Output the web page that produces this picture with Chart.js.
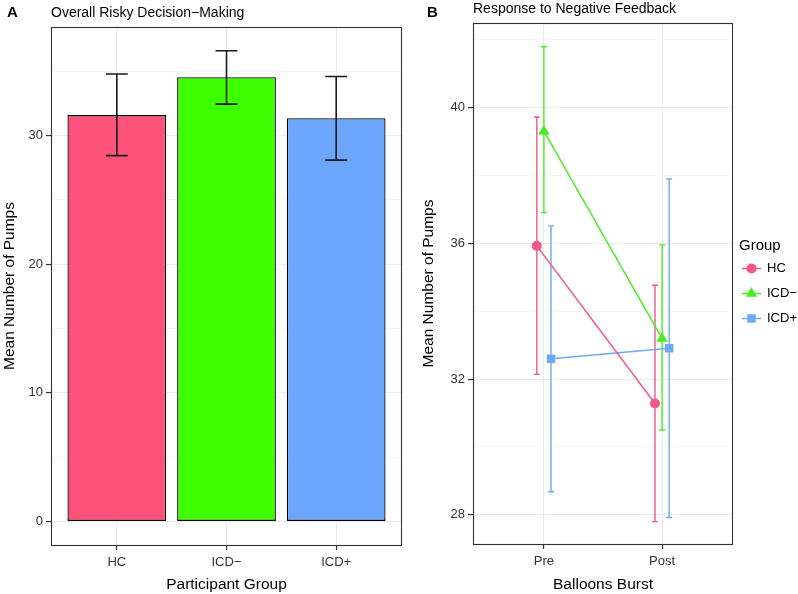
<!DOCTYPE html>
<html>
<head>
<meta charset="utf-8">
<script src="https://cdn.jsdelivr.net/npm/chart.js@4.4.1/dist/chart.umd.min.js"></script>
<style>
  html, body { margin: 0; padding: 0; background: #fff; }
  #wrap { position: relative; width: 798px; height: 594px; overflow: hidden; background: #fff; }
  canvas { position: absolute; top: 0; }
  #panelA { left: 0; }
  #panelB { left: 400px; }
</style>
</head>
<body>
<div id="wrap">
  <canvas id="panelA" width="404" height="594"></canvas>
  <canvas id="panelB" width="398" height="594"></canvas>
</div>
<script>
// Panel A - overall pumps per group (mean and error bar ends)
const groups = ['HC', 'ICD\u2212', 'ICD+'];
const overallMean = [31.6, 34.55, 31.35];
const overallLow = [28.45, 32.45, 28.1];
const overallHigh = [34.8, 36.6, 34.6];
const ticksA = [0, 10, 20, 30];
const minorA = [5, 15, 25, 35];

// Panel B - response to negative feedback, pre vs post
const phases = ['Pre', 'Post'];
const hcMean = [35.93, 31.28];
const hcLow = [32.14, 27.8];
const hcHigh = [39.73, 34.77];
const icdMinusMean = [39.31, 33.2];
const icdMinusLow = [36.91, 30.5];
const icdMinusHigh = [41.8, 35.96];
const icdPlusMean = [32.6, 32.91];
const icdPlusLow = [28.68, 27.92];
const icdPlusHigh = [36.52, 37.9];
const ticksB = [28, 32, 36, 40];
const minorB = [30, 34, 38, 42];

const barColors = ['#FF527B', '#3EFF00', '#6CA6FF'];
const lineColors = ['#F0588A', '#48EE22', '#6FA8F5'];
const pointStyles = ['circle', 'triangle', 'rect'];
const dodge = 0.06;

Chart.defaults.font.family = "'Liberation Sans', Arial, Helvetica, sans-serif";
Chart.defaults.color = '#333';

function gridOpts(major) {
  const isMajor = c => c.tick && major.includes(c.tick.value);
  return {
    color: c => isMajor(c) ? '#EBEBEB' : '#F3F3F3',
    lineWidth: c => isMajor(c) ? 1.1 : 0.7,
    tickColor: c => isMajor(c) ? '#333' : 'rgba(0,0,0,0)',
    tickWidth: 1.2,
    tickLength: 5
  };
}

function setTicks(values) {
  return scale => { scale.ticks = values.map(v => ({ value: v })); };
}

// frame around the plot area plus the panel letter and title
function panelDeco(letter, letterX, title, titleY) {
  return {
    id: 'deco' + letter,
    afterDraw(chart) {
      const { ctx, chartArea: a } = chart;
      ctx.save();
      ctx.strokeStyle = '#333';
      ctx.lineWidth = 1.1;
      ctx.strokeRect(a.left + 0.5, a.top + 0.5, a.right - a.left - 1, a.bottom - a.top);
      ctx.fillStyle = '#000';
      ctx.textBaseline = 'alphabetic';
      ctx.font = "bold 15px 'Liberation Sans', Arial, sans-serif";
      ctx.fillText(letter, letterX, 17.3);
      ctx.font = "14px 'Liberation Sans', Arial, sans-serif";
      ctx.fillText(title, a.left, titleY);
      ctx.restore();
    }
  };
}

function drawErrorBar(ctx, xs, ys, x, lo, hi, cap) {
  const px = xs.getPixelForValue(x);
  const capPx = Math.abs(xs.getPixelForValue(x + cap) - px);
  const yl = ys.getPixelForValue(lo), yh = ys.getPixelForValue(hi);
  ctx.beginPath();
  ctx.moveTo(px, yl); ctx.lineTo(px, yh);
  ctx.moveTo(px - capPx, yl); ctx.lineTo(px + capPx, yl);
  ctx.moveTo(px - capPx, yh); ctx.lineTo(px + capPx, yh);
  ctx.stroke();
}

const errorBarsA = {
  id: 'errorBarsA',
  afterDatasetsDraw(chart) {
    const { ctx, scales: { x, y } } = chart;
    ctx.save();
    ctx.strokeStyle = '#1a1a1a';
    ctx.lineWidth = 1.6;
    groups.forEach((g, i) => drawErrorBar(ctx, x, y, i + 1, overallLow[i], overallHigh[i], 0.1));
    ctx.restore();
  }
};

new Chart(document.getElementById('panelA'), {
  type: 'bar',
  data: {
    datasets: [{
      data: groups.map((g, i) => ({ x: i + 1, y: overallMean[i] })),
      backgroundColor: barColors,
      borderColor: '#000',
      borderWidth: 1.3,
      borderSkipped: false,
      barPercentage: 0.9,
      categoryPercentage: 1
    }]
  },
  options: {
    responsive: false,
    animation: false,
    layout: { padding: { top: 27, right: 2, left: 0, bottom: 0 } },
    plugins: { legend: { display: false }, tooltip: { enabled: false } },
    scales: {
      x: {
        type: 'linear', min: 0.4, max: 3.6, bounds: 'data', offset: false,
        afterBuildTicks: setTicks([1, 2, 3]),
        afterFit: s => { s.height = 49; },
        ticks: { callback: v => groups[Math.round(v) - 1], font: { size: 13 }, padding: 5, maxRotation: 0 },
        grid: Object.assign(gridOpts([1, 2, 3]), { offset: false }),
        border: { display: false },
        title: { display: true, text: 'Participant Group', color: '#000', font: { size: 15.5 }, padding: { top: 0, bottom: 0 } }
      },
      y: {
        min: -1.83, max: 38.45, bounds: 'data',
        afterBuildTicks: setTicks(ticksA.concat(minorA)),
        afterFit: s => { s.width = 51; },
        ticks: { callback: v => ticksA.includes(v) ? String(v) : '', font: { size: 13 }, padding: 3 },
        grid: gridOpts(ticksA),
        border: { display: false },
        title: { display: true, text: 'Mean Number of Pumps', color: '#000', font: { size: 15.5 }, padding: { top: 0, bottom: 0 } }
      }
    }
  },
  plugins: [errorBarsA, panelDeco('A', 7, 'Overall Risky Decision\u2212Making', 16.7)]
});

const seriesB = [
  { name: groups[0], mean: hcMean, low: hcLow, high: hcHigh },
  { name: groups[1], mean: icdMinusMean, low: icdMinusLow, high: icdMinusHigh },
  { name: groups[2], mean: icdPlusMean, low: icdPlusLow, high: icdPlusHigh }
];
const pointRadius = [5, 6.5, 6];

const errorBarsB = {
  id: 'errorBarsB',
  beforeDatasetsDraw(chart) {
    const { ctx, scales: { x, y } } = chart;
    ctx.save();
    ctx.lineWidth = 1.4;
    seriesB.forEach((s, k) => {
      ctx.strokeStyle = lineColors[k];
      phases.forEach((p, i) => {
        drawErrorBar(ctx, x, y, i + 1 + (k - 1) * dodge, s.low[i], s.high[i], 0.025);
      });
    });
    ctx.restore();
  }
};

function drawMarker(ctx, style, r, x, y) {
  if (Chart.helpers && Chart.helpers.drawPoint) {
    Chart.helpers.drawPoint(ctx, { pointStyle: style, radius: r, rotation: 0, borderWidth: 0 }, x, y);
    return;
  }
  ctx.beginPath();
  if (style === 'circle') ctx.arc(x, y, r, 0, Math.PI * 2);
  else if (style === 'triangle') {
    ctx.moveTo(x, y - r);
    ctx.lineTo(x + r * 0.866, y + r / 2);
    ctx.lineTo(x - r * 0.866, y + r / 2);
    ctx.closePath();
  } else { const h = r * Math.SQRT1_2; ctx.rect(x - h, y - h, 2 * h, 2 * h); }
  ctx.fill();
}

const legendB = {
  id: 'legendB',
  afterDraw(chart) {
    const { ctx } = chart;
    ctx.save();
    ctx.fillStyle = '#000';
    ctx.textBaseline = 'alphabetic';
    ctx.font = "15px 'Liberation Sans', Arial, sans-serif";
    ctx.fillText('Group', 339, 250);
    ctx.font = "13px 'Liberation Sans', Arial, sans-serif";
    seriesB.forEach((s, k) => {
      const cy = 268.5 + k * 25;
      ctx.strokeStyle = lineColors[k];
      ctx.fillStyle = lineColors[k];
      ctx.lineWidth = 1.5;
      ctx.beginPath();
      ctx.moveTo(342, cy); ctx.lineTo(361, cy);
      ctx.stroke();
      drawMarker(ctx, pointStyles[k], pointRadius[k], 351.5, cy);
      ctx.fillStyle = '#000';
      ctx.textBaseline = 'middle';
      ctx.fillText(s.name, 367, cy);
    });
    ctx.restore();
  }
};

new Chart(document.getElementById('panelB'), {
  type: 'line',
  data: {
    datasets: seriesB.map((s, k) => ({
      label: s.name,
      data: phases.map((p, i) => ({ x: i + 1 + (k - 1) * dodge, y: s.mean[i] })),
      borderColor: lineColors[k],
      backgroundColor: lineColors[k],
      borderWidth: 1.5,
      pointStyle: pointStyles[k],
      pointRadius: pointRadius[k],
      pointBorderWidth: 0,
      pointBackgroundColor: lineColors[k],
      tension: 0
    }))
  },
  options: {
    responsive: false,
    animation: false,
    layout: { padding: { top: 23, right: 65, left: 0, bottom: 0 } },
    plugins: { legend: { display: false }, tooltip: { enabled: false } },
    scales: {
      x: {
        type: 'linear', min: 0.4, max: 2.6, bounds: 'data',
        afterBuildTicks: setTicks([1, 2]),
        afterFit: s => { s.height = 50; },
        ticks: { callback: v => phases[Math.round(v) - 1], font: { size: 13 }, padding: 5, maxRotation: 0 },
        grid: gridOpts([1, 2]),
        border: { display: false },
        title: { display: true, text: 'Balloons Burst', color: '#000', font: { size: 15.5 }, padding: { top: 0, bottom: 0 } }
      },
      y: {
        type: 'linear', min: 27.14, max: 42.5, bounds: 'data',
        afterBuildTicks: setTicks(ticksB.concat(minorB)),
        afterFit: s => { s.width = 73; },
        ticks: { callback: v => ticksB.includes(v) ? String(v) : '', font: { size: 13 }, padding: 3 },
        grid: gridOpts(ticksB),
        border: { display: false },
        title: { display: true, text: 'Mean Number of Pumps', color: '#000', font: { size: 15.5 }, padding: { top: 19.5, bottom: 0 } }
      }
    }
  },
  plugins: [errorBarsB, legendB, panelDeco('B', 27, 'Response to Negative Feedback', 12.7)]
});
</script>
</body>
</html>
